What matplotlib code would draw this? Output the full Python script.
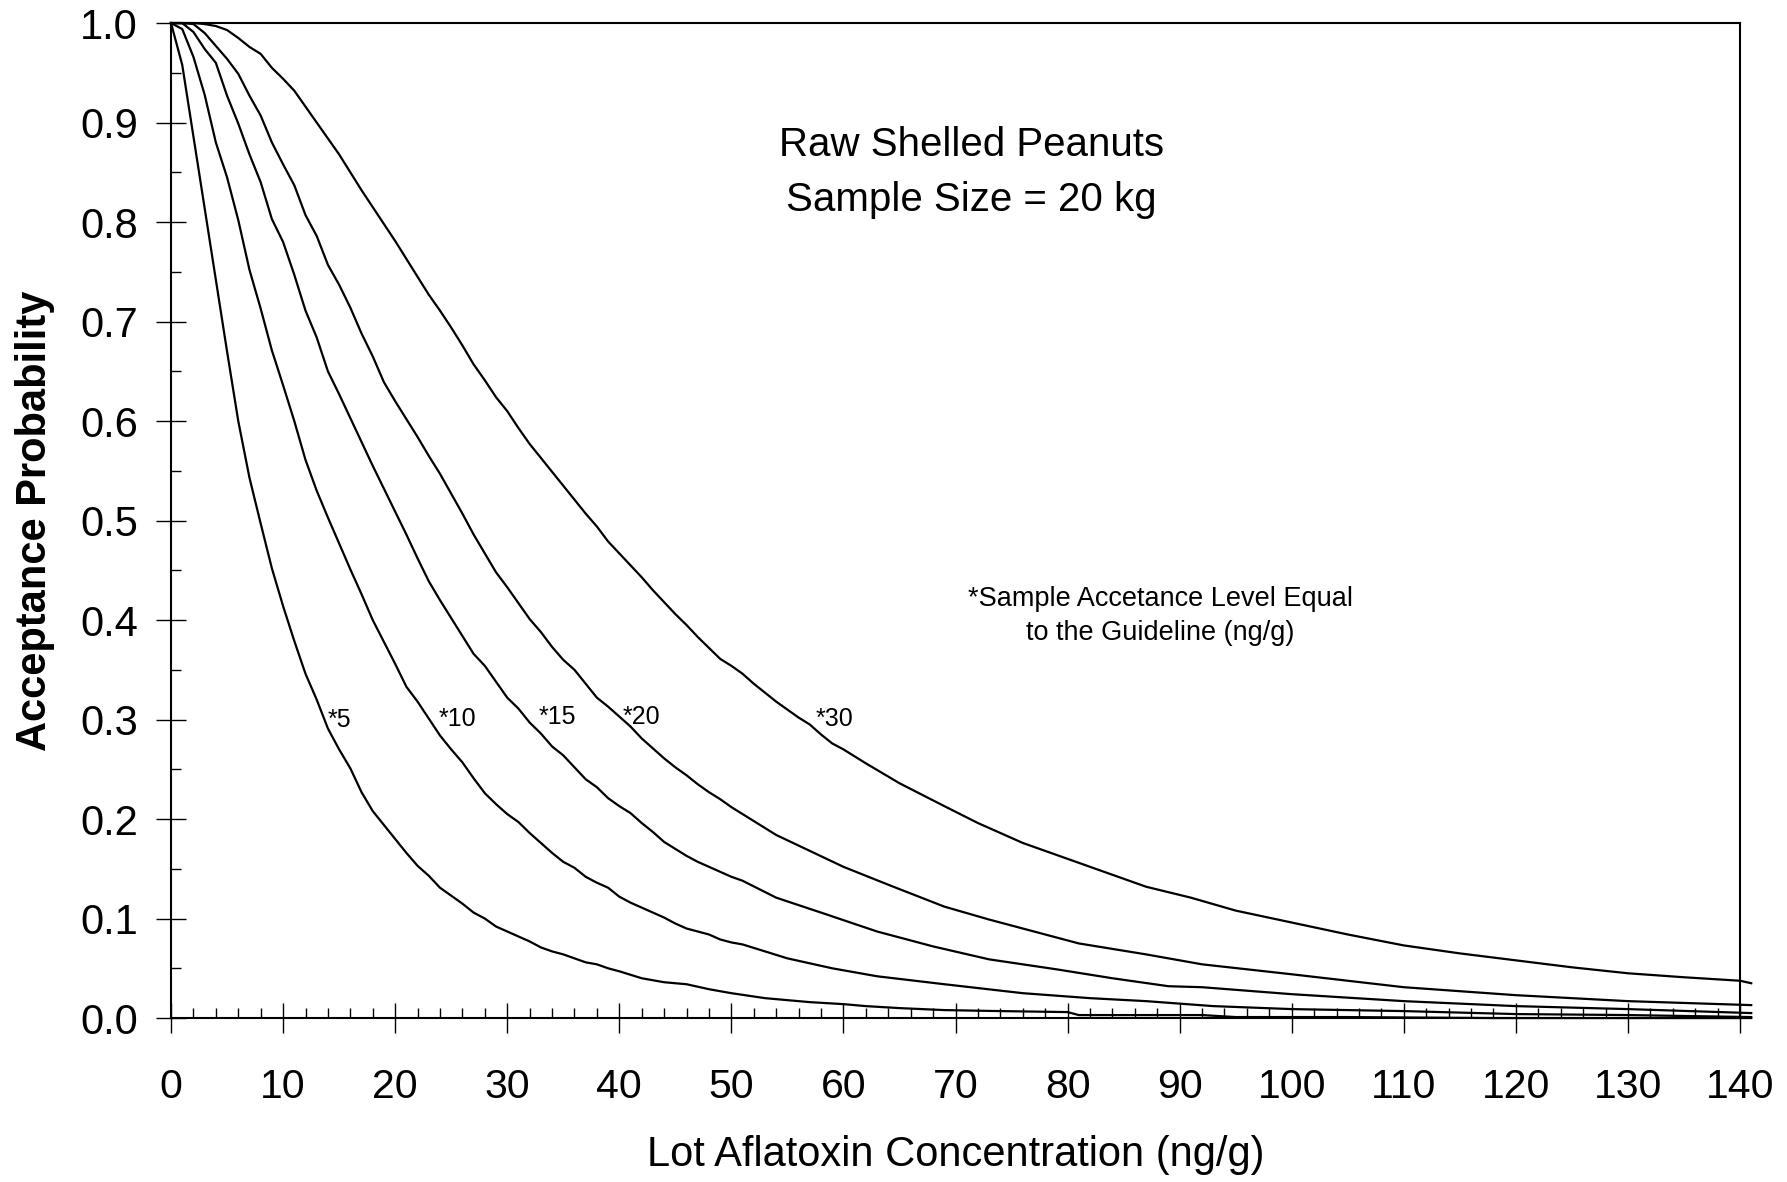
'''
    Acceptance probability curves: raw shelled peanuts, 20 kg sample
'''

# --
# Dependancies
import matplotlib
matplotlib.use('Agg')
import matplotlib.pyplot as plt
from matplotlib.ticker import MultipleLocator

plt.rcParams['font.family'] = ['Liberation Sans', 'DejaVu Sans']

# --
# Curves: x = lot concentration (ng/g), y = acceptance probability
conc_5 = list(range(41)) + [42, 44, 46, 48, 50, 53, 55, 57, 60, 62, 65, 69, 74, 80, 81,
                            92, 95, 105, 118, 141]
acc_5 = [1.0, 0.958, 0.886, 0.814, 0.742, 0.670, 0.600, 0.543, 0.497, 0.452,
         0.414, 0.379, 0.346, 0.320, 0.291, 0.270, 0.251, 0.227, 0.208, 0.194,
         0.180, 0.166, 0.153, 0.143, 0.131, 0.123, 0.115, 0.106, 0.100, 0.092,
         0.087, 0.082, 0.077, 0.071, 0.067, 0.064, 0.060, 0.056, 0.054, 0.050,
         0.047, 0.040, 0.036, 0.034, 0.029, 0.025, 0.020, 0.018, 0.016, 0.014,
         0.012, 0.010, 0.008, 0.007, 0.006, 0.003, 0.003, 0.001, 0.001, 0.0, 0.0]

conc_10 = list(range(52)) + [55, 59, 63, 69, 76, 82, 87, 93, 100, 110, 120, 130, 141]
acc_10 = [1.0, 0.994, 0.966, 0.928, 0.880, 0.845, 0.802, 0.752, 0.713, 0.671,
          0.636, 0.600, 0.561, 0.530, 0.503, 0.477, 0.451, 0.426, 0.400, 0.378,
          0.356, 0.333, 0.318, 0.301, 0.284, 0.270, 0.257, 0.241, 0.226, 0.215,
          0.205, 0.197, 0.186, 0.176, 0.166, 0.157, 0.151, 0.142, 0.136, 0.131,
          0.122, 0.116, 0.111, 0.106, 0.101, 0.095, 0.090, 0.087, 0.084, 0.079,
          0.076, 0.074, 0.060, 0.050, 0.042, 0.034, 0.025, 0.020, 0.017, 0.012,
          0.009, 0.007, 0.004, 0.003, 0.001]

conc_15 = list(range(52)) + [54, 58, 63, 68, 73, 79, 84, 89, 92, 100, 110, 120, 130, 141]
acc_15 = [1.0, 1.0, 0.991, 0.974, 0.960, 0.927, 0.899, 0.868, 0.840, 0.803,
          0.780, 0.747, 0.711, 0.684, 0.650, 0.627, 0.603, 0.579, 0.555, 0.532,
          0.509, 0.486, 0.462, 0.439, 0.420, 0.402, 0.384, 0.366, 0.354, 0.338,
          0.322, 0.311, 0.297, 0.286, 0.273, 0.264, 0.252, 0.240, 0.232, 0.221,
          0.213, 0.206, 0.196, 0.187, 0.177, 0.170, 0.163, 0.157, 0.152, 0.147,
          0.142, 0.138, 0.121, 0.106, 0.087, 0.072, 0.059, 0.049, 0.040, 0.032,
          0.031, 0.024, 0.017, 0.012, 0.009, 0.005]

conc_20 = list(range(52)) + [54, 57, 60, 64, 69, 73, 77, 81, 87, 92, 100, 110, 120, 130, 141]
acc_20 = [1.0, 1.0, 0.999, 0.990, 0.977, 0.964, 0.949, 0.927, 0.907, 0.880,
          0.858, 0.837, 0.807, 0.786, 0.757, 0.737, 0.714, 0.688, 0.665, 0.639,
          0.620, 0.602, 0.584, 0.565, 0.547, 0.527, 0.507, 0.486, 0.467, 0.448,
          0.433, 0.417, 0.401, 0.388, 0.373, 0.360, 0.350, 0.336, 0.322, 0.313,
          0.303, 0.293, 0.281, 0.271, 0.261, 0.252, 0.244, 0.235, 0.227, 0.220,
          0.212, 0.205, 0.184, 0.168, 0.152, 0.134, 0.112, 0.099, 0.087, 0.075,
          0.064, 0.054, 0.044, 0.031, 0.023, 0.017, 0.013]

conc_30 = list(range(61)) + [62, 65, 69, 72, 76, 79, 82, 87, 91, 95, 100, 105, 110, 115,
                             120, 125, 130, 135, 140, 141]
acc_30 = [1.0, 1.0, 1.0, 0.999, 0.997, 0.993, 0.985, 0.976, 0.969, 0.955,
          0.944, 0.932, 0.916, 0.900, 0.884, 0.868, 0.850, 0.832, 0.815, 0.798,
          0.781, 0.763, 0.745, 0.727, 0.711, 0.694, 0.676, 0.657, 0.641, 0.624,
          0.610, 0.593, 0.577, 0.563, 0.549, 0.535, 0.521, 0.507, 0.494, 0.479,
          0.467, 0.455, 0.443, 0.430, 0.418, 0.406, 0.395, 0.383, 0.372, 0.361,
          0.354, 0.346, 0.336, 0.327, 0.318, 0.310, 0.302, 0.295, 0.285, 0.276,
          0.270, 0.256, 0.236, 0.213, 0.196, 0.176, 0.164, 0.152, 0.132, 0.121,
          0.108, 0.096, 0.084, 0.073, 0.065, 0.058, 0.051, 0.045, 0.041, 0.0375,
          0.035]

curves = [(conc_5, acc_5), (conc_10, acc_10), (conc_15, acc_15),
          (conc_20, acc_20), (conc_30, acc_30)]

# curve labels and where they sit
curve_labels = ['*5', '*10', '*15', '*20', '*30']
label_x = [14.0, 23.9, 32.8, 40.3, 57.5]
label_y = [0.300, 0.301, 0.303, 0.303, 0.301]

# --
# Figure
fig = plt.figure(figsize=(17.87, 11.82), dpi=100)
ax = fig.add_axes([0.0957, 0.1387, 0.878, 0.8418])

for xs, ys in curves:
    ax.plot(xs, ys, color='black', lw=1.6, clip_on=False, zorder=3)

for txt, lx, ly in zip(curve_labels, label_x, label_y):
    ax.text(lx, ly, txt, fontsize=18, ha='left', va='center')

ax.text(71.4, 0.877, 'Raw Shelled Peanuts', fontsize=29, ha='center', va='center')
ax.text(71.4, 0.822, 'Sample Size = 20 kg', fontsize=29, ha='center', va='center')
ax.text(88.3, 0.421, '*Sample Accetance Level Equal', fontsize=19.5, ha='center', va='center')
ax.text(88.3, 0.387, 'to the Guideline (ng/g)', fontsize=19.5, ha='center', va='center')

# --
# Axes, ticks and labels
ax.set_xlim(0, 140)
ax.set_ylim(0, 1.0)
ax.xaxis.set_major_locator(MultipleLocator(10))
ax.xaxis.set_minor_locator(MultipleLocator(2))
ax.yaxis.set_major_locator(MultipleLocator(0.1))
ax.yaxis.set_minor_locator(MultipleLocator(0.05))
ax.yaxis.set_major_formatter(plt.FormatStrFormatter('%.1f'))

ax.tick_params(which='major', direction='inout', length=21.6, width=1.0, color='black')
ax.tick_params(which='minor', direction='in', length=7.2, width=1.0, color='black')
ax.tick_params(axis='y', which='major', labelsize=30, pad=13)
ax.tick_params(axis='x', which='major', labelsize=29.5, pad=25)

for sp in ax.spines.values():
    sp.set_linewidth(1.5)
    sp.set_color('black')

ax.set_xlabel('Lot Aflatoxin Concentration (ng/g)', fontsize=30, va='center')
ax.xaxis.set_label_coords(0.5, -0.1377)
ax.set_ylabel('Acceptance Probability', fontsize=30, fontweight='bold', va='center')
ax.yaxis.set_label_coords(-0.087, 0.5)

plt.savefig('out.png', dpi=100)
plt.close('all')
